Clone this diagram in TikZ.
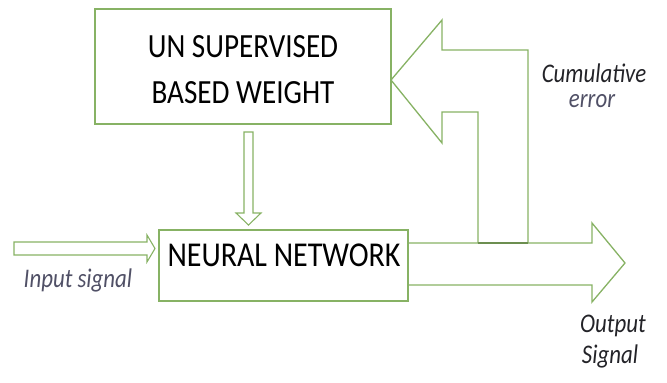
\documentclass[tikz,border=0pt]{standalone}
\usepackage{fontspec}
\setmainfont{Carlito}
\definecolor{lgreen}{RGB}{135,178,100}
\definecolor{lblgray}{RGB}{80,80,102}
\definecolor{dkgray}{RGB}{35,35,40}
\tikzset{
  blk/.style={draw=lgreen, line width=1.3bp},
  boxtext/.style={inner sep=0pt, xscale=0.86, transform shape, text=black, align=center},
  lbl/.style={inner sep=0pt, xscale=0.85, transform shape, font=\fontsize{27}{30}\selectfont\itshape, align=center}
}
\begin{document}
\begin{tikzpicture}[x=1bp,y=-1bp]
\useasboundingbox (0,0) rectangle (667,382);
% boxes
\draw[blk] (95,9) rectangle (391,124);
\node[boxtext, font=\fontsize{34}{46}\selectfont] (uw) at (243,70) {UN SUPERVISED\\BASED WEIGHT};
\draw[blk] (159,230) rectangle (408,301);
\node[boxtext, font=\fontsize{35}{40}\selectfont] (nn) at (284,255.5) {NEURAL NETWORK};
% down arrow
\draw[blk, line width=1.1bp] (244,132) -- (253,132) -- (253,213) -- (261,213) -- (248.5,225) -- (236,213) -- (244,213) -- cycle;
% input arrow
\draw[blk, line width=1.1bp] (14,242) -- (147,242) -- (147,235) -- (155,248.5) -- (147,262) -- (147,255) -- (14,255) -- cycle;
% output arrow
\draw[blk] (408,243) -- (592,243) -- (592,223) -- (625,263) -- (592,302) -- (592,285) -- (408,285);
% feedback arrow
\draw[blk] (478,243) -- (478,112) -- (442,112) -- (442,143) -- (391,80) -- (442,20) -- (442,50) -- (528,50) -- (528,243);
\draw[draw=lgreen!80!black, line width=1.6bp] (478,243) -- (528,243);
% labels
\node[lbl, text=dkgray] (cum) at (594,73) {Cumulative};
\node[lbl, text=lblgray] (err) at (592,101) {error};
\node[lbl, text=lblgray] (inp) at (78,280) {Input signal};
\node[lbl, text=dkgray] (out1) at (613,326) {Output};
\node[lbl, text=dkgray] (out2) at (610,356) {Signal};
\end{tikzpicture}
\end{document}
